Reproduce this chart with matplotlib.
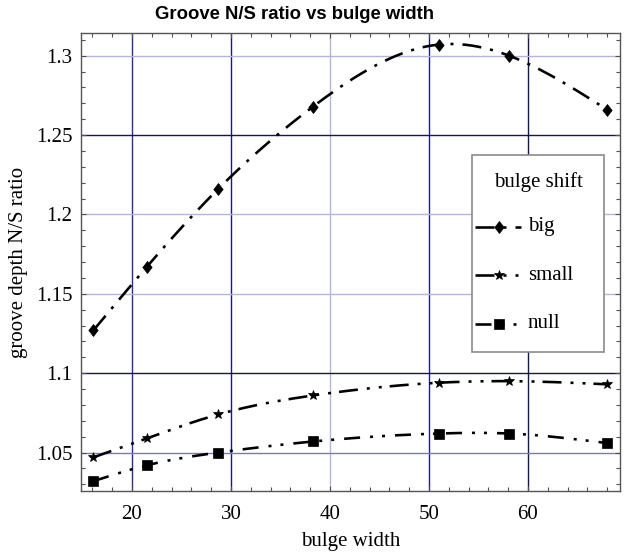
import numpy as np
import matplotlib
matplotlib.use("Agg")
import matplotlib.pyplot as plt
from matplotlib.lines import Line2D
from matplotlib.patches import Rectangle
from matplotlib.ticker import MultipleLocator, FixedLocator, FixedFormatter

plt.rcParams['lines.scale_dashes'] = False

# ---- data ----
bulge_width = [16.1, 21.5, 28.7, 38.3, 51.0, 58.1, 68.0]
ratio_big = [1.127, 1.167, 1.216, 1.268, 1.307, 1.300, 1.266]
ratio_small = [1.047, 1.059, 1.074, 1.086, 1.094, 1.095, 1.093]
ratio_null = [1.032, 1.042, 1.050, 1.057, 1.062, 1.062, 1.056]
series_names = ["big", "small", "null"]

x_ticks = [20, 30, 40, 50, 60]
x_tick_labels = ["20", "30", "40", "50", "60"]
y_ticks = [1.05, 1.1, 1.15, 1.2, 1.25, 1.3]
y_tick_labels = ["1.05", "1.1", "1.15", "1.2", "1.25", "1.3"]

vgrid = [20, 30, 40, 50, 60]
vgrid_colors = ["#2a2a9a", "#1a1a70", "#b4b4dc", "#1c1c90", "#14145e"]
hgrid = [1.05, 1.1, 1.15, 1.2, 1.25, 1.3]
hgrid_colors = ["#7878c8", "#14145e", "#b4b4dc", "#b4b4dc", "#14145e", "#b4b4dc"]

title = "Groove N/S ratio vs bulge width"
xlabel = "bulge width"
ylabel = "groove depth N/S ratio"
legend_title = "bulge shift"


def natural_spline(x, y, xs):
    x = np.asarray(x, float)
    y = np.asarray(y, float)
    n = len(x)
    h = np.diff(x)
    A = np.zeros((n, n))
    b = np.zeros(n)
    A[0, 0] = 1
    A[-1, -1] = 1
    for i in range(1, n - 1):
        A[i, i - 1] = h[i - 1]
        A[i, i] = 2 * (h[i - 1] + h[i])
        A[i, i + 1] = h[i]
        b[i] = 3 * ((y[i + 1] - y[i]) / h[i] - (y[i] - y[i - 1]) / h[i - 1])
    c = np.linalg.solve(A, b)
    bb = (y[1:] - y[:-1]) / h - h * (2 * c[:-1] + c[1:]) / 3
    d = (c[1:] - c[:-1]) / (3 * h)
    idx = np.clip(np.searchsorted(x, xs) - 1, 0, n - 2)
    dx = xs - x[idx]
    return y[idx] + bb[idx] * dx + c[idx] * dx ** 2 + d[idx] * dx ** 3


px = 1 / 1.3889  # one pixel in points at dpi 100
diamond = [(0, 1), (0.78, 0), (0, -1), (-0.78, 0), (0, 1)]
styles = {
    "big": dict(marker=diamond, ms=8.6, dashes=[19 * px, 9 * px, 3 * px, 9 * px]),
    "small": dict(marker="*", ms=7.5, dashes=[19 * px, 9 * px, 3 * px, 9 * px, 3 * px, 8 * px]),
    "null": dict(marker="s", ms=7.5, dashes=[16 * px, 10 * px, 3 * px, 9 * px, 3 * px, 10 * px]),
}
series = {"big": ratio_big, "small": ratio_small, "null": ratio_null}

serif = ["Liberation Serif", "DejaVu Serif"]

fig = plt.figure(figsize=(6.24, 5.54), dpi=100)
ax = fig.add_axes([81 / 624, 1 - 491 / 554, (620 - 81) / 624, (491 - 33) / 554])
ax.set_xlim(14.85, 69.3)
ax.set_ylim(1.0258, 1.3143)

for v, c in zip(vgrid, vgrid_colors):
    ax.axvline(v, color=c, lw=1.0, zorder=1)
for v, c in zip(hgrid, hgrid_colors):
    ax.axhline(v, color=c, lw=1.0, zorder=1)

xs = np.linspace(bulge_width[0], bulge_width[-1], 400)
lw = 2.6 * px
for name in series_names:
    st = styles[name]
    ys = natural_spline(bulge_width, series[name], xs)
    ax.plot(xs, ys, color="black", lw=lw, dashes=st["dashes"],
            dash_capstyle="butt", zorder=3)
    ax.plot(bulge_width, series[name], linestyle="none", marker=st["marker"],
            ms=st["ms"], color="black", mec="black", mew=0.5, zorder=4)

# ticks
ax.xaxis.set_major_locator(FixedLocator(x_ticks))
ax.xaxis.set_major_formatter(FixedFormatter(x_tick_labels))
ax.xaxis.set_minor_locator(MultipleLocator(2))
ax.yaxis.set_major_locator(FixedLocator(y_ticks))
ax.yaxis.set_major_formatter(FixedFormatter(y_tick_labels))
ax.yaxis.set_minor_locator(MultipleLocator(0.01))
ax.tick_params(which="both", direction="in", top=True, right=True,
               color="#505050", width=0.8)
ax.tick_params(which="major", length=5 * px)
ax.tick_params(which="minor", length=4 * px)
ax.tick_params(axis="x", which="major", pad=10)
ax.tick_params(axis="y", which="major", pad=6)
for lab in ax.get_xticklabels() + ax.get_yticklabels():
    lab.set_family(serif)
    lab.set_fontsize(15)
for s in ax.spines.values():
    s.set_color("#555555")
    s.set_linewidth(1.0)
    s.set_zorder(5)

ax.set_xlabel(xlabel, family=serif, fontsize=15, labelpad=6)
ax.set_ylabel(ylabel, family=serif, fontsize=15, labelpad=6)
fig.text(294.5 / 624, 1 - 14.5 / 554, title, ha="center", va="center",
         family=["Liberation Sans", "DejaVu Sans"], fontweight="bold", fontsize=13.3)

# legend box (drawn in figure pixels)
def fx(p):
    return p / 624

def fy(p):
    return 1 - p / 554

box = Rectangle((fx(472), fy(352)), fx(604) - fx(472), fy(155) - fy(352),
                transform=fig.transFigure, facecolor="white",
                edgecolor="#8a8a8a", lw=1.2, zorder=10)
fig.patches.append(box)
fig.text(fx(538), fy(182), legend_title, ha="center", va="center",
         family=serif, fontsize=15, zorder=11)
entry_y = [227, 275, 324]
for name, yy in zip(series_names, entry_y):
    st = styles[name]
    ln = Line2D([fx(475), fx(521)], [fy(yy), fy(yy)], transform=fig.transFigure,
                color="black", lw=lw, dashes=st["dashes"], dash_capstyle="butt",
                zorder=11)
    fig.lines.append(ln)
    mk = Line2D([fx(499)], [fy(yy)], transform=fig.transFigure, linestyle="none",
                marker=st["marker"], ms=st["ms"], color="black", mew=0.5, zorder=12)
    fig.lines.append(mk)
    fig.text(fx(528), fy(yy), name, ha="left", va="center", family=serif,
             fontsize=15, zorder=11)

fig.savefig("out.png", dpi=100)
